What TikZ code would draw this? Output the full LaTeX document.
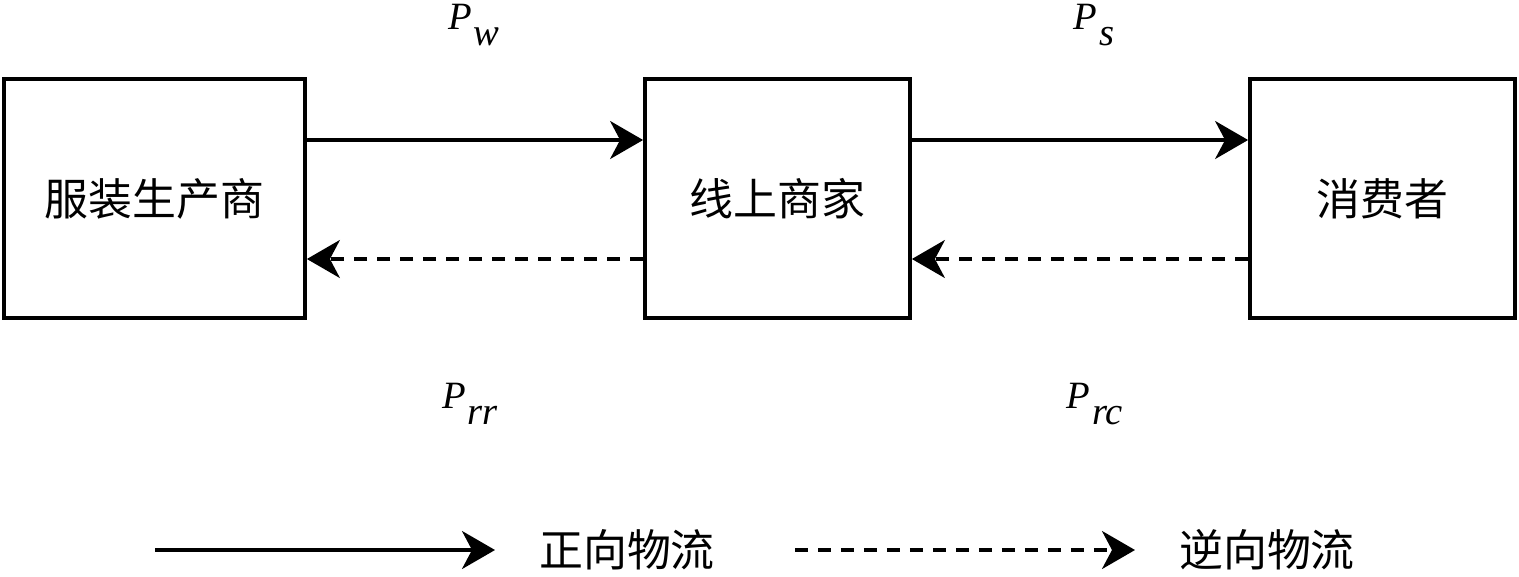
\documentclass[tikz,border=0pt]{standalone}
\usepackage{fontspec}
\setmainfont{Liberation Serif}
\newfontfamily\cjk{Noto Sans CJK SC}
\usetikzlibrary{arrows.meta}
\tikzset{
    party/.style={draw, line width=2.2pt, minimum height=4.78cm, inner sep=0pt,
        font=\cjk\fontsize{25}{30}\selectfont},
    flow/.style={line width=1.8pt, -{Stealth[length=0.66cm, width=0.76cm, inset=0.2cm]}},
    backflow/.style={flow, dash pattern=on 0.26cm off 0.2cm},
    price/.style={font=\fontsize{22}{26}\selectfont, inner sep=0pt},
    legendtext/.style={font=\cjk\fontsize{25}{30}\selectfont, inner sep=0pt}
}
\newcommand{\plabel}[2]{\textit{#1}\kern1pt\raisebox{-0.42em}{\textit{#2}}}
\begin{document}
\begin{tikzpicture}[x=0.02cm, y=-0.02cm]
            \useasboundingbox (0, 0) rectangle (1519, 576);
            \node[party, minimum width=6.02cm] (maker) at (154.5, 198.5) {服装生产商};
            \node[party, minimum width=5.3cm] (shop) at (777.5, 198.5) {线上商家};
            \node[party, minimum width=5.3cm] (buyer) at (1382.5, 198.5) {消费者};
            \draw[flow] (maker.east |- 0, 140) -- (shop.west |- 0, 140);
            \draw[flow] (shop.east |- 0, 140) -- (buyer.west |- 0, 140);
            \draw[backflow] (shop.west |- 0, 259) -- (maker.east |- 0, 259);
            \draw[backflow] (buyer.west |- 0, 259) -- (shop.east |- 0, 259);
            \node[price] (pw) at (474, 25) {\plabel{P}{w}};
            \node[price] (ps) at (1094, 25) {\plabel{P}{s}};
            \node[price] (prr) at (470, 404) {\plabel{P}{rr}};
            \node[price] (prc) at (1095, 404) {\plabel{P}{rc}};
            % legend
            \coordinate (fwda) at (155, 550);
            \coordinate (fwdb) at (495, 550);
            \coordinate (reva) at (795, 550);
            \coordinate (revb) at (1135, 550);
            \draw[flow] (fwda) -- (fwdb);
            \draw[backflow] (reva) -- (revb);
            \node[legendtext] (fwdtext) at (627, 550) {正向物流};
            \node[legendtext] (revtext) at (1267, 550) {逆向物流};
        \end{tikzpicture}
\end{document}
